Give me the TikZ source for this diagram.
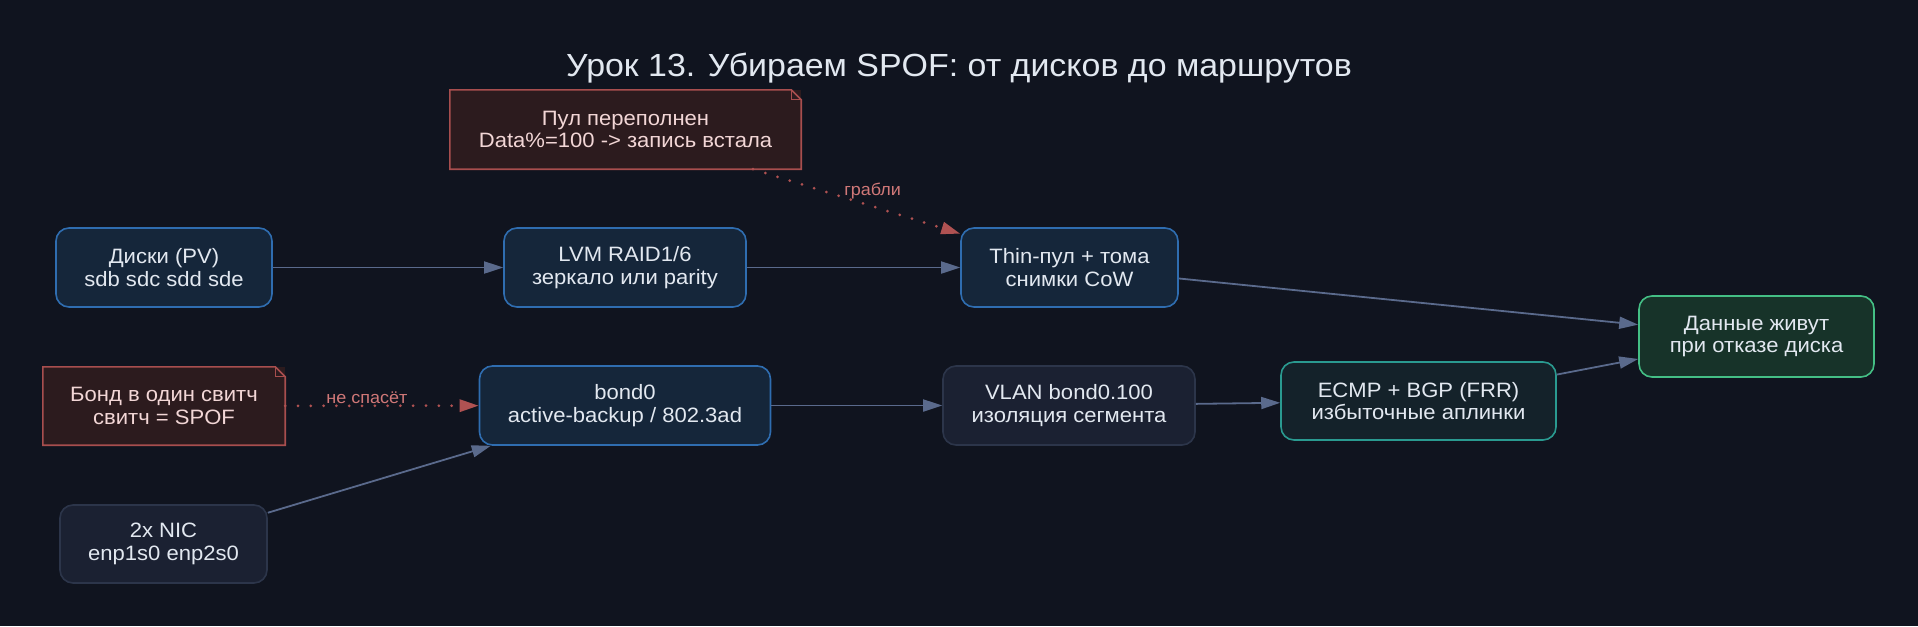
\documentclass[tikz,border=0pt]{standalone}
\usepackage{fontspec}
\setmainfont[FakeStretch=1.06]{Liberation Sans}
\usetikzlibrary{arrows.meta,calc}
\definecolor{bg}{HTML}{10141F}
\definecolor{edgec}{HTML}{5A6A8C}
\definecolor{blueB}{HTML}{2F6DB0}
\definecolor{blueF}{HTML}{15263A}
\definecolor{grayB}{HTML}{2C354A}
\definecolor{grayF}{HTML}{1B2132}
\definecolor{tealB}{HTML}{2A9A90}
\definecolor{tealF}{HTML}{14222A}
\definecolor{greenB}{HTML}{44BF85}
\definecolor{greenF}{HTML}{173329}
\definecolor{noteB}{HTML}{A84E4E}
\definecolor{noteF}{HTML}{2C1B1E}
\definecolor{noteT}{HTML}{F2D6D6}
\definecolor{redE}{HTML}{B05252}
\definecolor{redL}{HTML}{D07878}
\definecolor{txt}{HTML}{E2E8F0}
\tikzset{
  box/.style={rounded corners=13pt, line width=1.6pt, minimum height=79pt, align=center,
    text=txt, font=\fontsize{20.8}{22.5}\selectfont, inner sep=0pt},
  bluebox/.style={box, draw=blueB, fill=blueF},
  graybox/.style={box, draw=grayB, fill=grayF},
  tealbox/.style={box, draw=tealB, fill=tealF},
  greenbox/.style={box, draw=greenB, fill=greenF},
  notebox/.style={minimum height=79pt, align=center, text=noteT, fill=noteF,
    font=\fontsize{20.8}{22.5}\selectfont, inner sep=0pt},
  noteline/.style={draw=noteB, line width=1.6pt, line join=miter},
  edge/.style={draw=edgec, line width=1.8pt, -{Triangle[length=19pt,width=12pt]}},
  redge/.style={draw=redE, line width=3pt, line cap=round, dash pattern=on 0pt off 12.8pt,
    -{Triangle[length=19pt,width=12pt]}},
  elabel/.style={text=redL, font=\fontsize{17}{19}\selectfont, inner sep=1pt},
}
\newcommand{\notefold}[1]{%
  \draw[noteline] (#1.south west) -- (#1.north west) -- ($(#1.north east)+(-10pt,0)$)
    -- ($(#1.north east)+(0,-10pt)$) -- (#1.south east) -- cycle;
  \draw[noteline, line width=1.2pt] ($(#1.north east)+(-10pt,0)$) -- ($(#1.north east)+(-10pt,-10pt)$)
    -- ($(#1.north east)+(0,-10pt)$);
}
\begin{document}
\begin{tikzpicture}[x=1pt,y=-1pt]
\path[use as bounding box, fill=bg] (0,0) rectangle (1918,626);
\node[text=txt, font=\fontsize{32}{36}\selectfont] (title) at (959,68) {Урок 13. Убираем SPOF: от дисков до маршрутов};
\node[notebox, minimum width=351pt] (pool) at (625.5,129.5) {Пул переполнен\\Data\%=100 -> запись встала};
\notefold{pool}
\node[bluebox, minimum width=216pt] (pv) at (164,267.5) {Диски (PV)\\sdb sdc sdd sde};
\node[bluebox, minimum width=242pt] (lvm) at (625,267.5) {LVM RAID1/6\\зеркало или parity};
\node[bluebox, minimum width=217pt] (thin) at (1069.5,267.5) {Thin-пул + тома\\снимки CoW};
\node[greenbox, minimum width=235pt, minimum height=81pt] (data) at (1756.5,336.5) {Данные живут\\при отказе диска};
\node[tealbox, minimum width=275pt, minimum height=78pt] (ecmp) at (1418.5,401) {ECMP + BGP (FRR)\\избыточные аплинки};
\node[graybox, minimum width=252pt] (vlan) at (1069,405.5) {VLAN bond0.100\\изоляция сегмента};
\node[bluebox, minimum width=291pt] (bond) at (625,405.5) {bond0\\active-backup / 802.3ad};
\node[notebox, minimum width=242pt, minimum height=78pt] (bnote) at (164,406) {Бонд в один свитч\\свитч = SPOF};
\notefold{bnote}
\node[graybox, minimum width=207pt, minimum height=78pt] (nic) at (163.5,544) {2x NIC\\enp1s0 enp2s0};

\draw[edge] (pv) -- (lvm);
\draw[edge] (lvm) -- (thin);
\draw[edge] (thin) -- (data);
\draw[edge] (ecmp) -- (data);
\draw[edge] (vlan) -- (ecmp);
\draw[edge] (bond) -- (vlan);
\draw[edge] (nic) -- (bond);
\draw[redge] (pool) -- (thin) node[elabel, midway, above=0pt, xshift=16pt] {грабли};
\draw[redge] (bnote) -- (bond) node[elabel, midway, above=0pt, xshift=-15pt] {не спасёт};
\end{tikzpicture}
\end{document}
